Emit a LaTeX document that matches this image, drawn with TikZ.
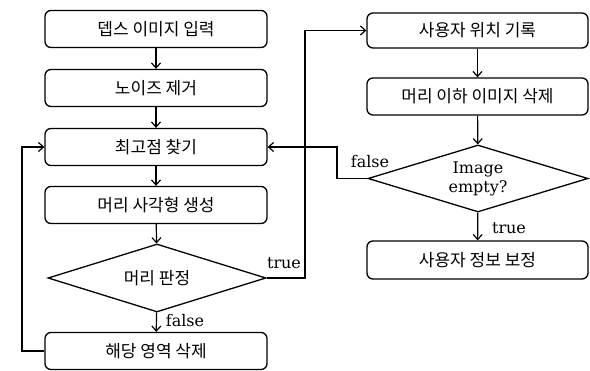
\documentclass[tikz,border=0pt]{standalone}
\usepackage{fontspec}
\newfontfamily\kr{Noto Sans CJK KR}
\newfontfamily\lat{DejaVu Serif}
\usetikzlibrary{shapes.geometric,arrows.meta}
\tikzset{
  krf/.style={font=\kr\fontsize{17}{20}\selectfont},
  box/.style={draw, line width=1.3pt, rounded corners=6pt, minimum width=222pt, minimum height=37pt, inner sep=0pt, krf},
  dia/.style={draw, line width=1.3pt, diamond, inner sep=0pt, minimum width=218pt, minimum height=68pt, aspect=3.2},
  arr/.style={line width=1.2pt, -{Straight Barb[length=5pt,width=9pt,line width=1.2pt]}},
  lab/.style={font=\lat\fontsize{16}{19}\selectfont, inner sep=0pt}
}
\begin{document}
\begin{tikzpicture}[x=1pt,y=-1pt]
\useasboundingbox[fill=white] (0,0) rectangle (590,371);
% left column
\node[box] (b1) at (156,29) {뎁스 이미지 입력};
\node[box] (b2) at (156,88) {노이즈 제거};
\node[box] (b3) at (156,147) {최고점 찾기};
\node[box] (b4) at (156,205) {머리 사각형 생성};
\node[dia, krf] (d1) at (157,278) {머리 판정};
\node[box] (b5) at (156,351) {해당 영역 삭제};
% right column
\node[box, minimum width=221pt, minimum height=35pt] (r1) at (477.5,30.5) {사용자 위치 기록};
\node[box, minimum width=221pt] (r2) at (477.5,96.5) {머리 이하 이미지 삭제};
\node[dia, minimum width=220pt, minimum height=67pt, font=\lat\fontsize{16}{19}\selectfont, align=center] (d2) at (478,178.5) {Image\\[0pt]empty?};
\node[box, minimum width=221pt, minimum height=38pt] (r3) at (477.5,260) {사용자 정보 보정};
% coordinates
\coordinate (lp) at (22,351);
\coordinate (tp) at (305,278);
\coordinate (fp) at (337,178.5);
% connectors
\draw[arr] (b1) -- (b2);
\draw[arr] (b2) -- (b3);
\draw[arr] (b3) -- (b4);
\draw[arr] (b4) -- (d1);
\draw[arr] (d1) -- (b5);
\draw[arr] (b5.west) -- (lp) |- (b3.west);
\draw[arr] (d1.east) -- (tp) |- (r1.west);
\draw[arr] (r1) -- (r2);
\draw[arr] (r2) -- (d2);
\draw[arr] (d2) -- (r3);
\draw[arr] (d2.west) -- (fp) |- (b3.east);
% labels
\node[lab] (l1) at (284,263) {true};
\node[lab] (l2) at (185,321) {false};
\node[lab] (l3) at (370,162) {false};
\node[lab] (l4) at (509,228) {true};
\end{tikzpicture}
\end{document}
